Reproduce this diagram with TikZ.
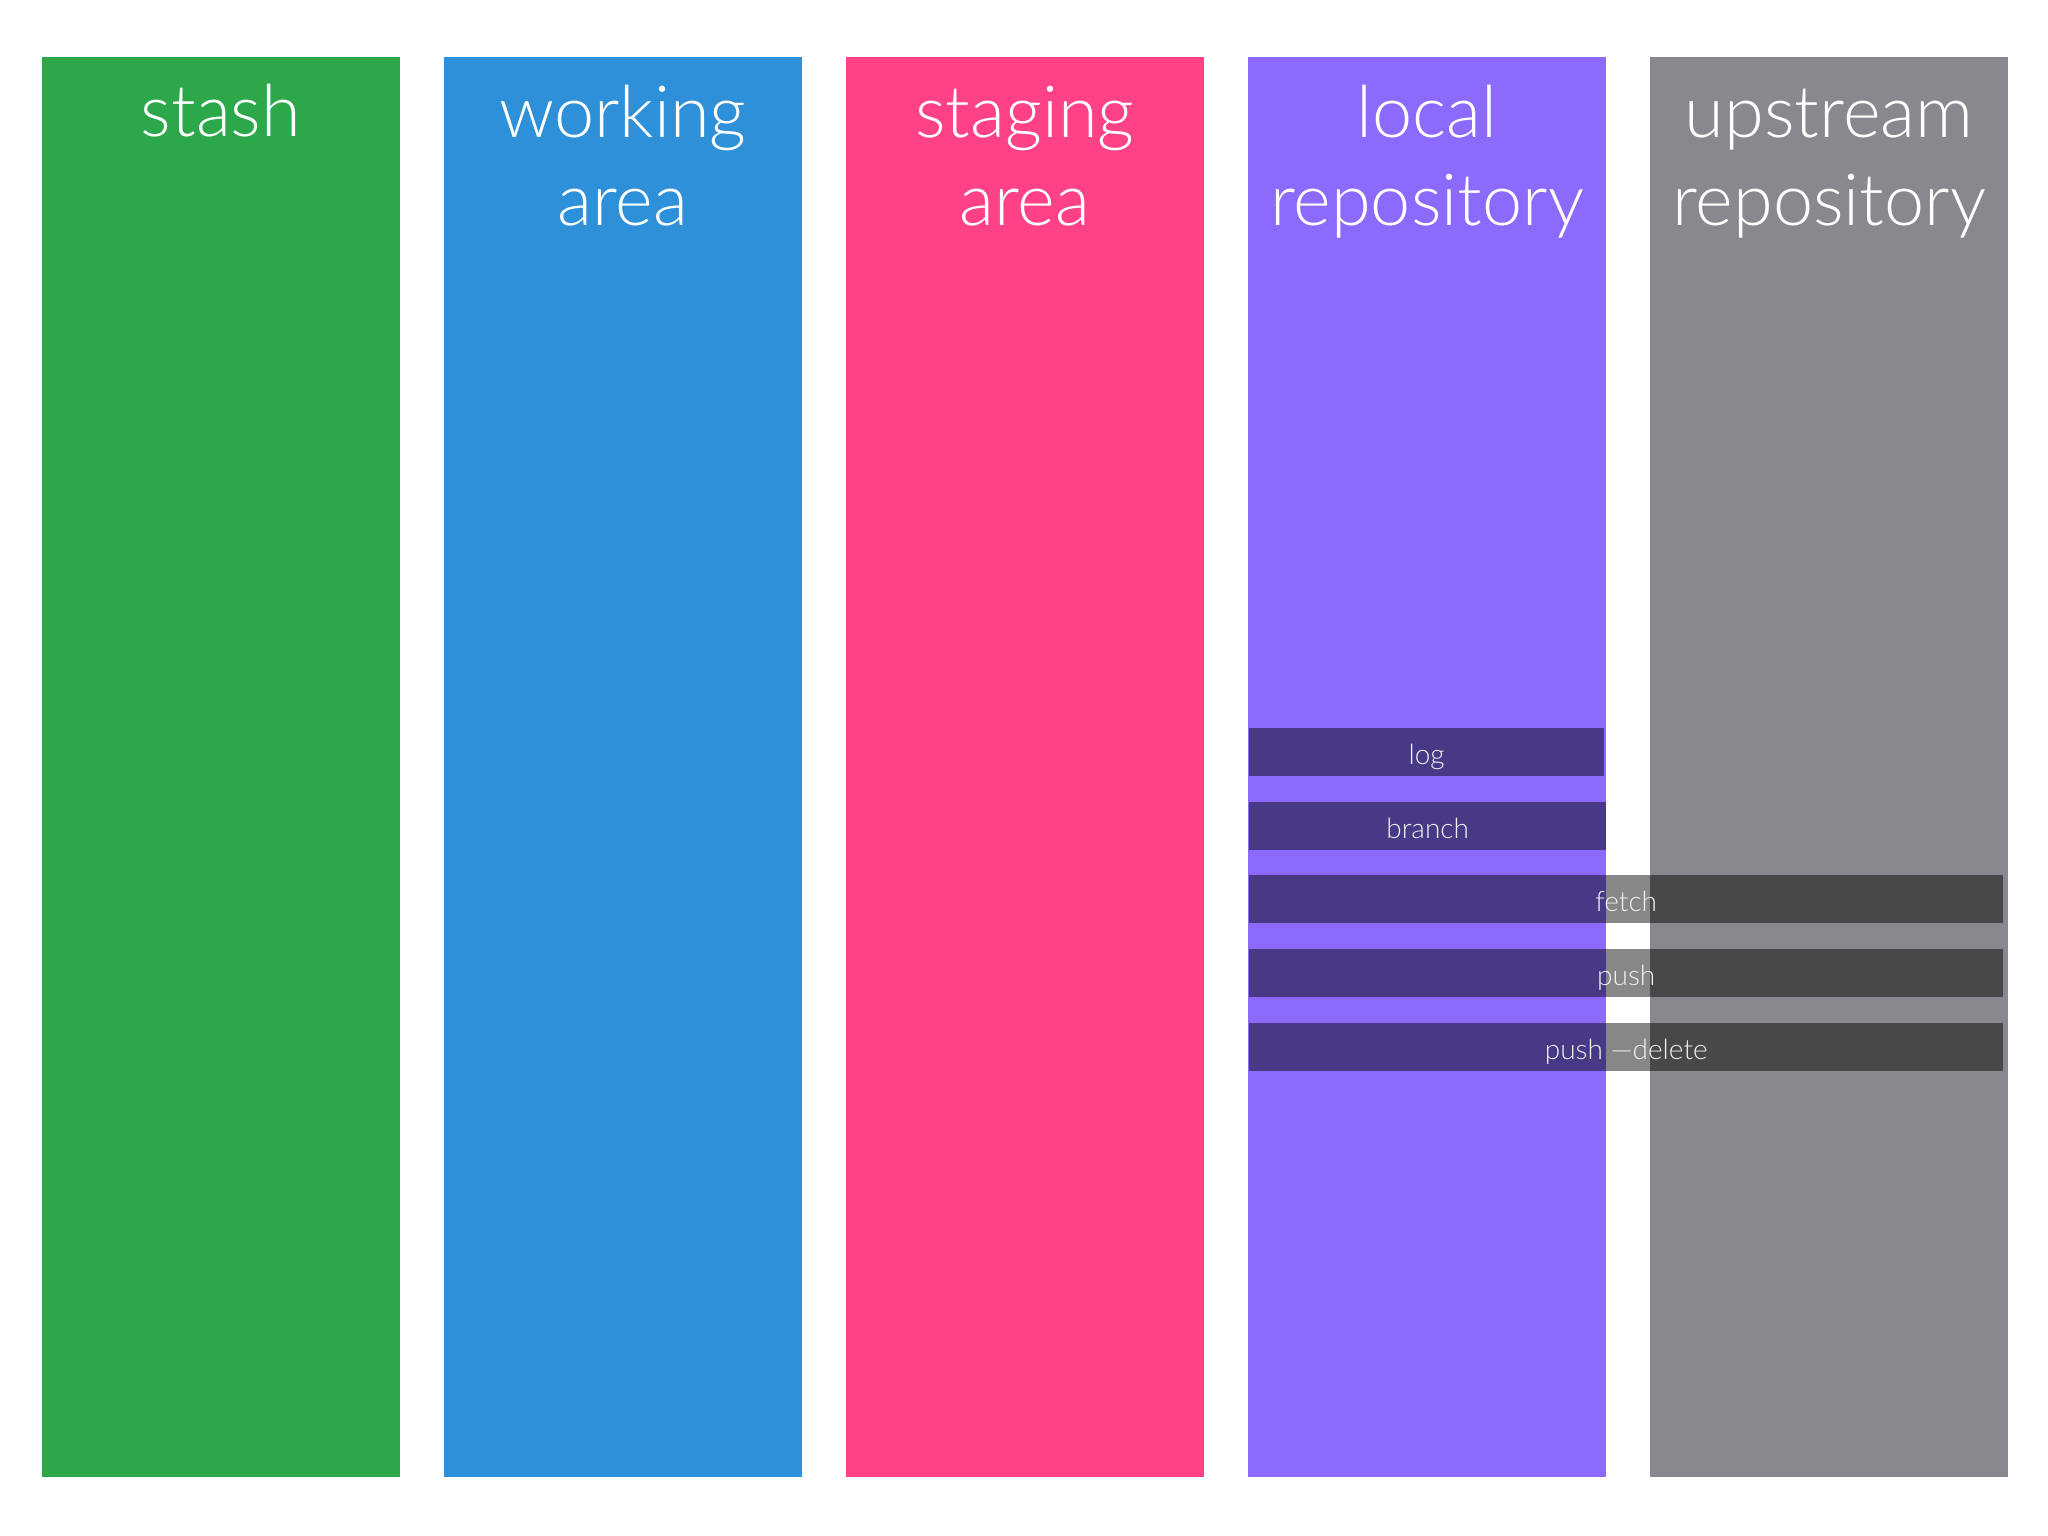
\documentclass[tikz,border=0pt]{standalone}
\usepackage{fontspec}
\setmainfont{Lato Light}
\usepackage{tikz}
\usetikzlibrary{positioning}
\definecolor{stashgreen}{RGB}{44,168,75}
\definecolor{workblue}{RGB}{45,144,217}
\definecolor{stagepink}{RGB}{255,66,136}
\definecolor{localpurple}{RGB}{139,106,253}
\definecolor{upstreamgray}{RGB}{137,136,143}
\tikzset{
		column/.style={rectangle, minimum width=358pt, minimum height=1420pt, inner sep=0pt, outer sep=0pt},
		heading/.style={text=white, align=center, anchor=base, font=\fontsize{72}{88}\selectfont},
		command/.style={rectangle, anchor=west, fill=black, fill opacity=0.47, text opacity=1, text=white!94!black,
			minimum height=48pt, inner sep=0pt, text height=26pt, text depth=2pt, font=\fontsize{28}{32}\selectfont}
	}

\begin{document}
\begin{tikzpicture}[x=1pt, y=-1pt]
				\useasboundingbox (0,0) rectangle (2048,1536);

				\node[column, fill=stashgreen]   (stash)                         at (221,767) {};
				\node[column, fill=workblue]     (work)     [right=44pt of stash] {};
				\node[column, fill=stagepink]    (stage)    [right=44pt of work]  {};
				\node[column, fill=localpurple]  (local)    [right=44pt of stage] {};
				\node[column, fill=upstreamgray] (upstream) [right=44pt of local] {};

				% base anchor sits on the last line
				\node[heading] (stashtitle)    at (stash.north    |- 0,137) {stash};
				\node[heading] (worktitle)     at (work.north     |- 0,225) {working\\area};
				\node[heading] (stagetitle)    at (stage.north    |- 0,225) {staging\\area};
				\node[heading] (localtitle)    at (local.north    |- 0,225) {local\\repository};
				\node[heading] (upstreamtitle) at (upstream.north |- 0,225) {upstream\\repository};

				% commands
				\node[command, minimum width=355pt] (log)      at (1249,752)  {log};
				\node[command, minimum width=357pt] (branch)   at (1249,826)  {branch};
				\node[command, minimum width=754pt] (fetch)    at (1249,899)  {fetch};
				\node[command, minimum width=754pt] (push)     at (1249,973)  {push};
				\node[command, minimum width=754pt] (pushdel)  at (1249,1047) {push {\textemdash}delete};
			\end{tikzpicture}
\end{document}
